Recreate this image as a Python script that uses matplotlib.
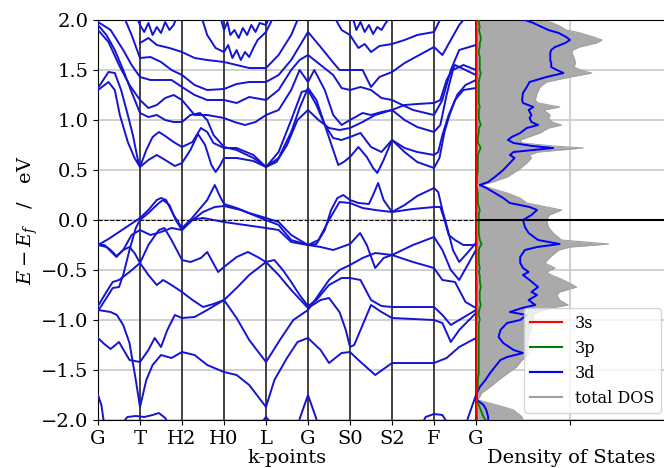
import matplotlib
matplotlib.use("Agg")
import matplotlib.pyplot as plt
from matplotlib.lines import Line2D

plt.rcParams['font.family'] = ['DejaVu Serif']
plt.rcParams['mathtext.fontset'] = 'dejavuserif'

# high-symmetry path
kpt_labels = ['G', 'T', 'H2', 'H0', 'L', 'G', 'S0', 'S2', 'F', 'G']
kpt_pos = [0, 1, 2, 3, 4, 5, 6, 7, 8, 9]

# bands as (k, E - Ef) pairs read along the path
band_v1 = [(0, -0.25), (0.25, -0.19), (0.5, -0.12), (0.75, -0.05), (1, 0.02), (1.2, 0.1), (1.4, 0.2),
           (1.5, 0.22), (1.62, 0.2), (1.8, 0.05), (2, -0.08), (2.2, 0.0), (2.4, 0.1), (2.6, 0.2),
           (2.78, 0.35), (2.9, 0.24), (3, 0.16), (3.3, 0.12), (3.6, 0.07), (4, 0.02), (4.3, -0.02),
           (4.6, -0.15), (5, -0.25), (5.2, -0.24), (5.4, -0.1), (5.55, 0.1), (5.7, 0.22), (5.84, 0.25),
           (6, 0.2), (6.2, 0.17), (6.45, 0.16), (6.55, 0.25), (6.67, 0.37), (6.8, 0.2), (7, 0.08),
           (7.3, 0.15), (7.6, 0.24), (8, 0.32), (8.1, 0.28), (8.2, 0.1), (8.33, -0.1), (8.45, -0.3),
           (8.6, -0.42), (8.75, -0.35), (9, -0.23)]
band_v2 = [(0, -0.91), (0.2, -0.78), (0.35, -0.68), (0.5, -0.67), (0.6, -0.55), (0.75, -0.3), (0.9, -0.08),
           (1, 0.0), (1.2, 0.07), (1.45, 0.17), (1.55, 0.2), (1.7, 0.15), (1.85, 0.0), (2, -0.1),
           (2.25, 0.0), (2.5, 0.08), (2.78, 0.13), (3, 0.14), (3.4, 0.1), (3.7, 0.05), (4, 0.0),
           (4.3, -0.05), (4.6, -0.2), (5, -0.25), (5.25, -0.2), (5.5, 0.0), (5.75, 0.18), (6, 0.17),
           (6.3, 0.12), (6.6, 0.1), (7, 0.08), (7.5, 0.11), (8, 0.13), (8.15, 0.13), (8.25, 0.0),
           (8.35, -0.15), (8.5, -0.2), (8.7, -0.25), (9, -0.25)]
band_v3 = [(0, -0.25), (0.15, -0.25), (0.3, -0.3), (0.44, -0.36), (0.6, -0.3), (0.8, -0.15), (1, -0.1),
           (1.25, -0.15), (1.5, -0.12), (1.75, -0.08), (2, -0.1), (2.2, 0.0), (2.5, 0.02), (3, -0.02),
           (3.5, -0.05), (4, -0.08), (4.3, -0.1), (4.6, -0.22), (5, -0.25), (5.3, -0.27), (5.6, -0.3),
           (6, -0.24), (6.24, -0.13), (6.4, -0.25), (6.6, -0.48), (6.8, -0.38), (7, -0.35), (7.5, -0.25),
           (8, -0.17), (8.2, -0.3), (8.4, -0.5), (8.6, -0.6), (8.8, -0.45), (9, -0.3)]
band_v4 = [(0, -0.86), (0.2, -0.72), (0.35, -0.62), (0.5, -0.6), (0.75, -0.52), (1, -0.43), (1.2, -0.25),
           (1.45, -0.1), (1.58, -0.08), (1.75, -0.2), (2, -0.4), (2.2, -0.42), (2.45, -0.38), (2.6, -0.32),
           (2.86, -0.52), (3, -0.47), (3.3, -0.37), (3.57, -0.32), (3.8, -0.37), (4, -0.42), (4.3, -0.55),
           (4.6, -0.7), (5, -0.88), (5.3, -0.8), (5.5, -0.78), (5.75, -0.92), (5.9, -1.1), (6, -1.27),
           (6.1, -1.25), (6.3, -1.05), (6.5, -0.85), (6.75, -0.92), (7, -0.98), (7.5, -0.99), (8, -1.0),
           (8.2, -1.03), (8.4, -1.22), (8.6, -1.1), (9, -0.93)]
band_v5 = [(0, -0.25), (0.2, -0.27), (0.44, -0.37), (0.6, -0.3), (0.75, -0.27), (0.87, -0.33), (1, -0.43),
           (1.2, -0.55), (1.4, -0.65), (1.55, -0.6), (1.75, -0.65), (2, -0.72), (2.25, -0.8), (2.5, -0.87),
           (2.75, -0.84), (3, -0.8), (3.3, -0.68), (3.6, -0.55), (4, -0.42), (4.2, -0.4), (4.4, -0.5),
           (4.6, -0.62), (4.8, -0.75), (5, -0.86), (5.2, -0.8), (5.5, -0.65), (5.8, -0.58), (6, -0.58),
           (6.25, -0.6), (6.5, -0.8), (6.75, -0.86), (7, -0.87), (7.5, -0.87), (8, -0.87), (8.2, -0.95),
           (8.4, -1.05), (8.6, -1.0), (8.8, -0.95), (9, -0.9)]
band_v6 = [(0, -1.18), (0.15, -1.24), (0.3, -1.29), (0.5, -1.22), (0.75, -1.4), (1, -1.42), (1.2, -1.3),
           (1.35, -1.18), (1.5, -1.27), (1.65, -1.1), (1.83, -0.95), (2, -0.98), (2.3, -0.97), (2.6, -0.9),
           (3, -0.8), (3.3, -0.98), (3.6, -1.2), (4, -1.42), (4.33, -1.2), (4.65, -1.0), (5, -0.9),
           (5.25, -0.75), (5.5, -0.6), (5.75, -0.5), (6, -0.45), (6.3, -0.38), (6.6, -0.33), (7, -0.35),
           (7.5, -0.42), (8, -0.48), (8.2, -0.6), (8.5, -0.62), (8.75, -0.82), (9, -0.88)]
band_v7 = [(0, -0.9), (0.3, -0.92), (0.45, -0.95), (0.6, -1.05), (0.75, -1.23), (0.9, -1.6), (1, -1.87),
           (1.15, -1.6), (1.3, -1.45), (1.5, -1.35), (1.75, -1.38), (2, -1.32), (2.3, -1.35), (2.6, -1.45),
           (3, -1.52), (3.3, -1.55), (3.6, -1.65), (4, -1.87), (4.2, -1.6), (4.5, -1.38), (4.75, -1.22),
           (5, -1.18), (5.3, -1.3), (5.5, -1.43), (5.8, -1.33), (6, -1.32), (6.2, -1.4), (6.6, -1.55),
           (7, -1.43), (7.5, -1.43), (8, -1.43), (8.3, -1.38), (8.6, -1.27), (9, -1.18)]
band_v8 = [(0, -1.75), (0.08, -1.85), (0.15, -2.05)]
band_v9 = [(0.55, -2.05), (0.7, -1.97), (0.9, -1.96), (1.1, -1.97), (1.3, -1.95), (1.45, -1.93),
           (1.6, -1.98), (1.7, -2.05)]
band_v10 = [(3.85, -2.05), (4, -1.97), (4.15, -2.05), (4.75, -2.05), (4.85, -1.93), (5, -1.75),
            (5.15, -1.93), (5.25, -2.05)]
band_v11 = [(7.7, -2.05), (7.8, -1.97), (8, -1.94), (8.2, -1.95), (8.35, -2.05), (8.75, -2.05),
            (8.85, -1.93), (9, -1.75)]

band_c1 = [(0, 1.32), (0.25, 1.48), (0.4, 1.47), (0.55, 1.3), (0.71, 1.05), (0.83, 0.85), (0.95, 0.6),
           (1, 0.53), (1.2, 0.6), (1.4, 0.65), (1.6, 0.6), (1.83, 0.54), (2, 0.57), (2.2, 0.7),
           (2.38, 0.86), (2.55, 0.75), (2.7, 0.55), (2.8, 0.48), (2.9, 0.54), (3, 0.62), (3.3, 0.62),
           (3.7, 0.59), (4, 0.53), (4.3, 0.62), (4.6, 0.88), (4.8, 1.12), (5, 1.32), (5.2, 1.2),
           (5.4, 0.95), (5.6, 0.7), (5.72, 0.55), (5.85, 0.58), (6, 0.63), (6.2, 0.73), (6.4, 0.63),
           (6.55, 0.52), (6.65, 0.47), (6.8, 0.6), (7, 0.8), (7.3, 0.72), (7.6, 0.68), (8, 0.65),
           (8.1, 0.68), (8.2, 0.85), (8.35, 1.05), (8.5, 1.2), (8.7, 1.3), (9, 1.32)]
band_c2 = [(0, 1.3), (0.25, 1.38), (0.4, 1.3), (0.52, 1.05), (0.71, 0.78), (0.87, 0.62), (1, 0.53),
           (1.15, 0.7), (1.3, 0.83), (1.45, 0.88), (1.6, 0.84), (1.8, 0.78), (2, 0.73), (2.25, 0.78),
           (2.45, 0.92), (2.6, 0.88), (2.75, 0.77), (3, 0.72), (3.3, 0.72), (3.7, 0.65), (4, 0.53),
           (4.3, 0.68), (4.6, 1.0), (4.85, 1.28), (5, 1.3), (5.2, 1.15), (5.4, 0.95), (5.6, 0.82),
           (5.8, 0.8), (6, 0.83), (6.25, 0.87), (6.5, 0.73), (6.75, 0.68), (7, 0.8), (7.3, 0.68),
           (7.6, 0.58), (8, 0.52), (8.13, 0.62), (8.25, 0.88), (8.37, 1.05), (8.55, 1.25), (8.75, 1.35),
           (9, 1.4)]
band_c3 = [(0, 1.9), (0.25, 1.78), (0.5, 1.55), (0.75, 1.35), (1, 1.2), (1.2, 1.12), (1.4, 1.15),
           (1.6, 1.22), (1.8, 1.25), (2, 1.2), (2.3, 1.05), (2.6, 1.05), (3, 1.02), (3.25, 0.98),
           (3.5, 0.95), (3.75, 0.98), (4, 1.05), (4.3, 1.1), (4.6, 1.3), (4.8, 1.5), (5, 1.38),
           (5.15, 1.5), (5.4, 1.3), (5.6, 1.05), (5.8, 0.95), (6, 1.0), (6.3, 1.07), (6.5, 1.05),
           (6.75, 1.08), (7, 1.1), (7.3, 1.0), (7.6, 0.93), (8, 0.88), (8.15, 0.95), (8.3, 1.25),
           (8.45, 1.5), (8.7, 1.55), (9, 1.5)]
band_c4 = [(0, 1.95), (0.2, 1.85), (0.4, 1.7), (0.6, 1.5), (0.8, 1.28), (1, 1.07), (1.2, 1.03),
           (1.4, 1.05), (1.6, 1.0), (1.8, 0.98), (2, 0.98), (2.2, 1.05), (2.43, 1.07), (2.6, 1.0),
           (2.75, 0.85), (3, 0.73), (3.3, 0.7), (3.7, 0.62), (4, 0.53), (4.25, 0.58), (4.5, 0.75),
           (4.75, 1.0), (5, 1.1), (5.25, 1.0), (5.5, 0.92), (5.75, 0.9), (6, 0.92), (6.3, 0.98),
           (6.6, 1.05), (7, 1.1), (7.3, 1.15), (7.6, 1.16), (8, 1.17), (8.15, 1.2), (8.3, 1.4),
           (8.5, 1.55), (8.75, 1.5), (9, 1.45)]
band_c5 = [(0, 1.98), (0.3, 1.9), (0.6, 1.7), (0.8, 1.55), (1, 1.43), (1.25, 1.4), (1.5, 1.4),
           (1.75, 1.4), (2, 1.33), (2.3, 1.25), (2.6, 1.2), (3, 1.2), (3.3, 1.17), (3.6, 1.23), (4, 1.2),
           (4.3, 1.3), (4.6, 1.5), (4.8, 1.6), (5, 1.65), (5.3, 1.55), (5.6, 1.45), (5.8, 1.32),
           (6, 1.3), (6.25, 1.33), (6.5, 1.3), (6.75, 1.22), (7, 1.2), (7.5, 1.1), (8, 1.05),
           (8.2, 1.2), (8.4, 1.5), (8.6, 1.7), (9, 1.75)]
band_c6 = [(0.6, 2.05), (0.8, 1.85), (1, 1.62), (1.25, 1.63), (1.5, 1.58), (1.75, 1.5), (2, 1.45),
           (2.3, 1.35), (2.6, 1.3), (3, 1.31), (3.3, 1.36), (3.6, 1.38), (4, 1.38), (4.3, 1.45),
           (4.6, 1.6), (5, 1.88), (5.3, 1.73), (5.55, 1.6), (5.75, 1.5), (6, 1.5), (6.3, 1.5),
           (6.5, 1.33), (6.7, 1.43), (7, 1.48), (7.3, 1.57), (8, 1.73), (8.2, 1.65), (8.4, 1.8),
           (8.6, 1.95), (8.8, 2.05)]
band_c7 = [(1, 1.77), (1.2, 1.82), (1.4, 1.75), (1.7, 1.72), (2, 1.68), (2.3, 1.62), (2.6, 1.6),
           (3, 1.58), (3.3, 1.55), (3.6, 1.52), (4, 1.52), (4.3, 1.65), (4.6, 1.85), (4.8, 2.05)]
band_c8 = [(0.9, 2.05), (1, 1.95), (1.1, 1.88), (1.2, 1.97), (1.3, 1.85), (1.4, 1.93), (1.5, 1.87),
           (1.6, 1.98), (1.7, 1.9), (1.8, 1.95), (1.9, 2.05)]
band_c9 = [(2.45, 2.05), (2.6, 1.85), (2.8, 1.72), (3, 1.68), (3.1, 1.75), (3.2, 1.62), (3.3, 1.7),
           (3.4, 1.6), (3.5, 1.68), (3.6, 1.63), (3.7, 1.72), (3.8, 1.8), (4, 1.88), (4.2, 2.05)]
band_c10 = [(5.6, 2.05), (5.8, 1.9), (6, 1.85), (6.2, 1.72), (6.35, 1.76), (6.5, 1.68), (6.7, 1.74),
            (7, 1.76), (7.3, 1.8), (7.6, 1.85), (8, 1.88), (8.2, 2.05)]
band_c11 = [(2.9, 2.05), (3, 1.9), (3.08, 1.98), (3.15, 1.85), (3.25, 1.9), (3.35, 1.82), (3.45, 1.92),
            (3.55, 1.85), (3.65, 1.95), (3.75, 1.88), (3.85, 1.97), (4, 1.95), (4.1, 2.05)]
band_c12 = [(6.05, 2.05), (6.15, 1.9), (6.25, 1.98), (6.35, 1.88), (6.45, 1.95), (6.55, 1.86),
            (6.65, 1.93), (6.75, 1.9), (6.85, 1.97), (7, 2.05)]

bands = [band_v1, band_v2, band_v3, band_v4, band_v5, band_v6, band_v7, band_v8, band_v9,
         band_v10, band_v11, band_c1, band_c2, band_c3, band_c4, band_c5, band_c6, band_c7,
         band_c8, band_c9, band_c10, band_c11, band_c12]

# projected density of states (arbitrary units)
dos_energy = [2.00, 1.97, 1.93, 1.90, 1.87, 1.83, 1.80, 1.77, 1.73, 1.70, 1.67, 1.63, 1.60, 1.57,
              1.53, 1.50, 1.47, 1.43, 1.38, 1.33, 1.27, 1.20, 1.17, 1.13, 1.10, 1.05, 1.02, 0.98,
              0.95, 0.92, 0.87, 0.83, 0.80, 0.77, 0.74, 0.72, 0.68, 0.65, 0.62, 0.57, 0.50, 0.43,
              0.38, 0.35, 0.32, 0.27, 0.22, 0.17, 0.13, 0.10, 0.05, 0.00, -0.07, -0.13, -0.20,
              -0.24, -0.27, -0.30, -0.37, -0.43, -0.48, -0.52, -0.55, -0.60, -0.67, -0.72, -0.75,
              -0.80, -0.85, -0.88, -0.92, -0.95, -1.00, -1.03, -1.10, -1.17, -1.23, -1.30, -1.33,
              -1.37, -1.40, -1.47, -1.53, -1.60, -1.67, -1.73, -1.80, -1.85, -1.90, -1.97, -2.00]
dos_total = [0.70, 0.82, 0.91, 0.96, 1.11, 1.25, 1.34, 1.28, 1.10, 1.03, 1.02, 1.04, 1.05, 1.06,
             1.04, 1.11, 1.23, 1.00, 0.75, 0.68, 0.65, 0.63, 0.66, 0.89, 0.72, 0.79, 0.77, 0.81,
             0.91, 0.77, 0.68, 0.56, 0.47, 0.49, 0.82, 1.14, 0.66, 0.57, 0.59, 0.54, 0.45, 0.33,
             0.18, 0.06, 0.15, 0.33, 0.47, 0.54, 0.75, 0.91, 0.78, 0.75, 0.77, 0.82, 0.91, 1.41,
             1.00, 0.88, 0.79, 0.73, 0.84, 0.75, 0.80, 0.93, 1.07, 0.89, 0.86, 0.89, 0.98, 0.80,
             0.66, 0.61, 0.62, 0.60, 0.58, 0.56, 0.55, 0.55, 0.56, 0.53, 0.49, 0.43, 0.34, 0.24,
             0.15, 0.06, 0.02, 0.22, 0.40, 0.49, 0.50]
dos_3d = [0.52, 0.61, 0.70, 0.77, 0.88, 0.96, 1.00, 0.95, 0.84, 0.80, 0.79, 0.79, 0.79, 0.80,
          0.80, 0.86, 0.93, 0.75, 0.57, 0.54, 0.50, 0.49, 0.50, 0.61, 0.56, 0.59, 0.57, 0.59,
          0.66, 0.54, 0.47, 0.38, 0.34, 0.40, 0.60, 0.82, 0.40, 0.36, 0.41, 0.36, 0.29, 0.20,
          0.13, 0.04, 0.11, 0.20, 0.29, 0.36, 0.57, 0.65, 0.59, 0.50, 0.52, 0.56, 0.66, 0.89,
          0.65, 0.52, 0.47, 0.47, 0.50, 0.56, 0.50, 0.57, 0.66, 0.59, 0.65, 0.56, 0.63, 0.49,
          0.36, 0.54, 0.47, 0.33, 0.26, 0.24, 0.29, 0.40, 0.50, 0.33, 0.26, 0.20, 0.15, 0.10,
          0.04, 0.01, 0.01, 0.08, 0.11, 0.13, 0.13]
dos_3p = [0.03, 0.03, 0.04, 0.03, 0.04, 0.05, 0.05, 0.04, 0.04, 0.03, 0.03, 0.04, 0.04, 0.04,
          0.04, 0.04, 0.05, 0.04, 0.03, 0.03, 0.03, 0.03, 0.03, 0.04, 0.03, 0.03, 0.03, 0.04,
          0.05, 0.03, 0.03, 0.02, 0.02, 0.02, 0.04, 0.05, 0.03, 0.02, 0.02, 0.02, 0.02, 0.01,
          0.01, 0.005, 0.01, 0.02, 0.02, 0.02, 0.03, 0.04, 0.03, 0.03, 0.03, 0.03, 0.04, 0.06,
          0.04, 0.03, 0.03, 0.03, 0.04, 0.03, 0.04, 0.04, 0.05, 0.04, 0.04, 0.04, 0.05, 0.04,
          0.03, 0.03, 0.04, 0.03, 0.03, 0.03, 0.03, 0.03, 0.03, 0.03, 0.03, 0.03, 0.03, 0.02,
          0.02, 0.01, 0.01, 0.03, 0.05, 0.08, 0.10]
dos_3s = [0.005, 0.005, 0.006, 0.005, 0.006, 0.008, 0.008, 0.006, 0.006, 0.005, 0.005, 0.006,
          0.006, 0.006, 0.006, 0.006, 0.008, 0.006, 0.005, 0.005, 0.005, 0.005, 0.005, 0.006,
          0.005, 0.005, 0.005, 0.006, 0.008, 0.005, 0.005, 0.004, 0.004, 0.004, 0.006, 0.008,
          0.005, 0.004, 0.004, 0.004, 0.004, 0.002, 0.002, 0.001, 0.002, 0.004, 0.004, 0.004,
          0.005, 0.006, 0.005, 0.005, 0.005, 0.005, 0.006, 0.009, 0.006, 0.005, 0.005, 0.005,
          0.006, 0.005, 0.006, 0.006, 0.008, 0.006, 0.006, 0.006, 0.008, 0.006, 0.005, 0.005,
          0.006, 0.005, 0.005, 0.005, 0.005, 0.005, 0.005, 0.005, 0.005, 0.005, 0.005, 0.004,
          0.004, 0.002, 0.002, 0.005, 0.008, 0.010, 0.012]

band_color = '#1414d2'

fig = plt.figure(figsize=(6.64, 4.68), dpi=100)
ax = fig.add_axes([98 / 664, 48 / 468, 378 / 664, 400 / 468])
ax_dos = fig.add_axes([476 / 664, 48 / 468, 190 / 664, 400 / 468], sharey=ax)

# band structure
for kv in kpt_pos:
    ax.axvline(kv, color='#333333', lw=1.3, zorder=1)
for band in bands:
    ax.plot([p[0] for p in band], [p[1] for p in band], color=band_color, lw=1.4, zorder=3)
ax.axhline(0, color='k', lw=0.8, ls='--', zorder=2)
ax.set_xlim(0, 9)
ax.set_ylim(-2, 2)
ax.set_xticks(kpt_pos)
ax.set_xticklabels(kpt_labels)
ax.set_yticks([-2, -1.5, -1, -0.5, 0, 0.5, 1, 1.5, 2])
ax.grid(axis='y', color='#c8c8c8', lw=1.2, zorder=0)
ax.set_axisbelow(True)
ax.tick_params(labelsize=14)
ax.set_xlabel('k-points', fontsize=14, labelpad=1)
ax.set_ylabel(r'$E-E_f$   /   eV', fontsize=14, labelpad=1)

# density of states
ax_dos.fill_betweenx(dos_energy, 0, dos_total, color='#aaaaaa', lw=0, zorder=1)
ax_dos.plot(dos_total, dos_energy, color='#a0a0a0', lw=0.8, zorder=2)
ax_dos.plot(dos_3d, dos_energy, color='blue', lw=1.4, zorder=3)
ax_dos.plot(dos_3p, dos_energy, color='green', lw=1.3, zorder=4)
ax_dos.plot(dos_3s, dos_energy, color='red', lw=1.2, zorder=5)
ax_dos.axhline(0, color='k', lw=1.5, zorder=6)
ax_dos.set_xlim(0, 190 / 94)
ax_dos.set_xticks([1])
ax_dos.set_xticklabels([])
ax_dos.tick_params(axis='y', labelleft=False, left=False)
ax_dos.grid(True, color='#c8c8c8', lw=1.2, zorder=0)
ax_dos.set_axisbelow(True)
ax_dos.set_xlabel('Density of States', fontsize=14, labelpad=14)

handles = [Line2D([], [], color='red', lw=1.5), Line2D([], [], color='green', lw=1.5),
           Line2D([], [], color='blue', lw=1.5), Line2D([], [], color='#a0a0a0', lw=1.5)]
ax_dos.legend(handles, ['3s', '3p', '3d', 'total DOS'], loc='lower left',
              bbox_to_anchor=(48 / 190, 7 / 400), borderaxespad=0, fontsize=11.5)

fig.savefig('out.png', dpi=100)
